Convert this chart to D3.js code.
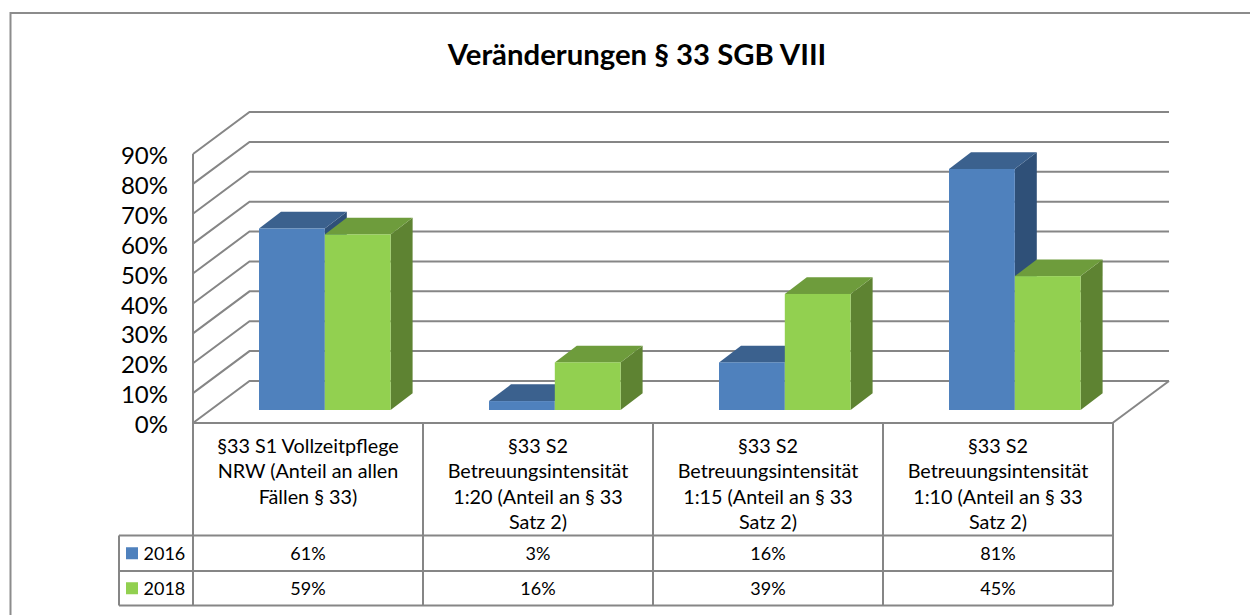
<!DOCTYPE html>
<html><head><meta charset="utf-8">
<script src="https://cdn.jsdelivr.net/npm/d3@7"></script>
<style>html,body{margin:0;background:#fff}svg{display:block}text{font-family:Lato,"Open Sans",sans-serif;fill:#000}</style>
</head><body><svg id="c" width="1250" height="615"></svg>
<script>
const title = "Veränderungen § 33 SGB VIII";
const categories = [
  ["§33 S1 Vollzeitpflege","NRW (Anteil an allen","Fällen § 33)"],
  ["§33 S2","Betreuungsintensität","1:20 (Anteil an § 33","Satz 2)"],
  ["§33 S2","Betreuungsintensität","1:15 (Anteil an § 33","Satz 2)"],
  ["§33 S2","Betreuungsintensität","1:10 (Anteil an § 33","Satz 2)"]
];
const seriesNames = ["2016","2018"];
const values2016 = [61,3,16,81];
const values2018 = [59,16,39,45];
const yTicks = [0,10,20,30,40,50,60,70,80,90];

const seriesValues = [values2016, values2018];
const front = ["#4f81bd","#92d050"];
const topC = ["#3b618e","#6e9c3c"];
const sideC = ["#2f5078","#5e8332"];
const grid = "#868686";

const svg = d3.select("#c");
// chart frame
svg.append("path").attr("d","M10.5,615V13H1250").attr("fill","none").attr("stroke","#8c8c8c").attr("stroke-width",2);

svg.append("text").attr("x",637).attr("y",64.5).attr("text-anchor","middle")
  .attr("font-size",29.3).attr("font-weight",700).text(title);

const dx = 56.5, dy = 42;             // wall depth
const barDx = 22, barDy = 16.7;       // bar depth
const xBand = d3.scaleBand().domain(d3.range(categories.length)).range([193,1113]);
const yWall = d3.scaleLinear().domain([0,90]).range([423,154]);
const barBase = 410;
const yBar = d3.scaleLinear().domain([0,90]).range([barBase,barBase-267.8]);

// walls
const g = svg.append("g").attr("fill","none").attr("stroke",grid).attr("stroke-width",2);
yTicks.forEach(t=>{
  const y = yWall(t);
  g.append("path").attr("d",`M${193},${y}L${193+dx},${y-dy}H1169`);
});
g.append("path").attr("d",`M193,${yWall(90)}V${yWall(0)}`);
g.append("path").attr("d",`M1112.5,423L1169,${423-dy}`);

// y axis labels
const axis = d3.axisLeft(yWall).tickValues(yTicks).tickSize(0).tickPadding(0).tickFormat(d=>d+"%");
const ax = svg.append("g").attr("transform","translate(168,0)").call(axis);
ax.select(".domain").remove();
ax.selectAll("text").attr("font-size",24).attr("x",0).attr("dy","0.4em").attr("text-anchor","end");

// bars
const barW = 65.8;
const barLeft = 66;   // offset of the first bar from the left of its table column
categories.forEach((c,i)=>{
  const x0 = xBand(i) + barLeft;
  seriesValues.forEach((vals,s)=>{
    const x = x0 + s*barW, y = yBar(vals[i]), gb = svg.append("g");
    gb.append("path").attr("fill",sideC[s]).attr("d",`M${x+barW},${y}l${barDx},${-barDy}V${barBase-barDy}l${-barDx},${barDy}Z`);
    gb.append("path").attr("fill",topC[s]).attr("d",`M${x},${y}l${barDx},${-barDy}h${barW}l${-barDx},${barDy}Z`);
    gb.append("rect").attr("x",x).attr("y",y).attr("width",barW).attr("height",barBase-y).attr("fill",front[s]);
  });
});

// data table
const rowY = [423,535.5,571,605.5];
const colX = xBand.domain().map(i=>xBand(i)).concat(1113);
const t = svg.append("g").attr("fill","none").attr("stroke",grid).attr("stroke-width",2);
t.append("path").attr("d",`M193,423H1113`);
colX.forEach(x=>t.append("path").attr("d",`M${x},423V${rowY[3]}`));
[1,2,3].forEach(r=>t.append("path").attr("d",`M119,${rowY[r]}H1113`));
t.append("path").attr("d",`M119,${rowY[1]}V${rowY[3]}`);

const lineH = 25.5, fs = 18;
categories.forEach((lines,i)=>{
  const cx = xBand(i)+xBand.bandwidth()/2;
  lines.forEach((l,k)=>svg.append("text").attr("x",cx).attr("y",452.5+k*lineH)
    .attr("text-anchor","middle").attr("font-size",19.8).text(l));
  seriesValues.forEach((vals,s)=>svg.append("text").attr("x",cx).attr("y",(rowY[s+1]+rowY[s+2])/2+6.5)
    .attr("text-anchor","middle").attr("font-size",fs).text(vals[i]+"%"));
});
seriesNames.forEach((n,s)=>{
  const my = (rowY[s+1]+rowY[s+2])/2;
  svg.append("rect").attr("x",126).attr("y",my-6).attr("width",12).attr("height",12).attr("fill",front[s]);
  svg.append("text").attr("x",143.5).attr("y",my+6.5).attr("font-size",fs).text(n);
});
</script></body></html>
